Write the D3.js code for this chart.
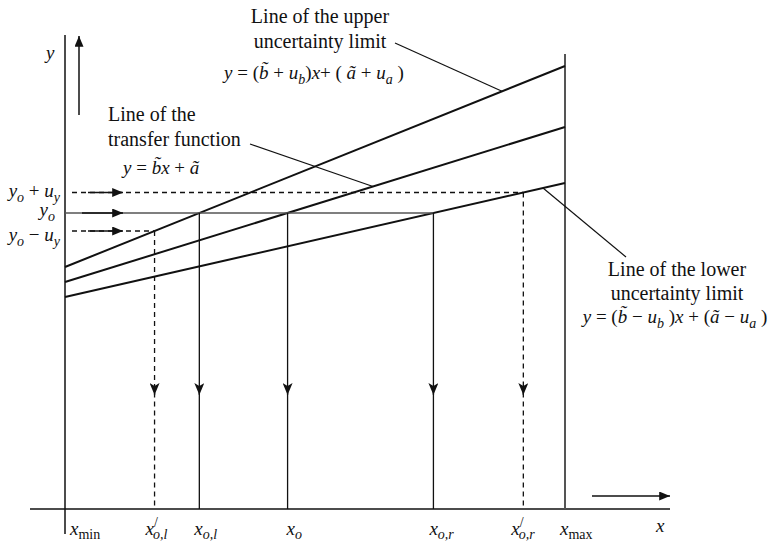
<!DOCTYPE html>
<html>
<head>
<meta charset="utf-8">
<script src="https://cdn.jsdelivr.net/npm/d3@7"></script>
<style>
  body { margin: 0; background: #fff; }
</style>
</head>
<body>
<div id="chart"></div>
<script>
const WIDTH = 773;
const HEIGHT = 545;

// the three lines: upper limit, transfer function, lower limit (intercept at x_min, slope)
const lineNames = ["upper", "transfer", "lower"];
const intercepts = [9.68, 9.08, 8.48];
const slopes = [0.804, 0.62, 0.456];

// output levels: y_o + u_y, y_o, y_o - u_y
const levelNames = ["plus", "yo", "minus"];
const levelValues = [12.66, 11.84, 11.12];

// x range of the instrument
const xMin = 0;
const xMax = 10;

// scales
let xScale = d3.scaleLinear().domain([0, 10]).range([65, 565]);
let yScale = d3.scaleLinear().domain([0, 20]).range([509, 9]);

const svg = d3.select("#chart")
  .append("svg")
    .attr("width", WIDTH)
    .attr("height", HEIGHT)
    .attr("font-family", "'Liberation Serif', 'Times New Roman', Times, 'DejaVu Serif', serif")
    .attr("font-size", 19)
    .attr("fill", "#111");

const defs = svg.append("defs");
defs.append("marker")
    .attr("id", "barb")
    .attr("viewBox", "0 0 12 10")
    .attr("refX", 12).attr("refY", 5)
    .attr("markerWidth", 12).attr("markerHeight", 10)
    .attr("markerUnits", "userSpaceOnUse")
    .attr("orient", "auto")
  .append("path")
    .attr("d", "M0,0 L12,5 L0,10 L3,5 Z")
    .attr("fill", "#111");
defs.append("marker")
    .attr("id", "tri")
    .attr("viewBox", "0 0 12 10")
    .attr("refX", 12).attr("refY", 5)
    .attr("markerWidth", 12).attr("markerHeight", 9)
    .attr("markerUnits", "userSpaceOnUse")
    .attr("orient", "auto")
  .append("path")
    .attr("d", "M0,0 L12,5 L0,10 Z")
    .attr("fill", "#111");

function lineY(i, x) { return intercepts[i] + slopes[i] * x; }
function lineX(i, y) { return (y - intercepts[i]) / slopes[i]; }

function seg(x1, y1, x2, y2) {
  return svg.append("line")
    .attr("x1", xScale(x1)).attr("y1", yScale(y1))
    .attr("x2", xScale(x2)).attr("y2", yScale(y2))
    .attr("stroke", "#111").attr("stroke-width", 1.3);
}

// text with italic / subscript / superscript parts
function mathText(x, y, parts, anchor) {
  const t = svg.append("text").attr("x", x).attr("y", y)
    .attr("text-anchor", anchor || "start");
  let shift = 0;
  parts.forEach(p => {
    const ts = t.append("tspan").text(p.t);
    if (p.i) ts.attr("font-style", "italic");
    const target = p.sub ? 5 : (p.sup ? -8 : 0);
    if (target !== shift) { ts.attr("dy", target - shift); shift = target; }
    if (p.sub || p.sup) ts.attr("font-size", 14);
  });
  return t;
}

// frame: x_min vertical, x axis, x_max vertical
seg(xMin, 18.96, xMin, -1).attr("stroke-width", 1.5);
seg(-0.7, 0, 12.1, 0).attr("stroke-width", 1.5);
seg(xMax, 18.2, xMax, 0).attr("stroke", "#555").attr("stroke-width", 2);

// axis direction arrows
seg(0.28, 15.76, 0.28, 18.92).attr("stroke-width", 1.5).attr("marker-end", "url(#tri)");
seg(10.54, 0.52, 12.1, 0.52).attr("stroke-width", 1.5).attr("marker-end", "url(#tri)");

// the three straight lines
lineNames.forEach((n, i) => {
  seg(xMin, lineY(i, xMin), xMax, lineY(i, xMax))
    .attr("class", "main-" + n)
    .attr("stroke-width", 2);
});

// crossing points of the output levels with the lines
const xol = lineX(0, levelValues[1]);
const xo = lineX(1, levelValues[1]);
const xor = lineX(2, levelValues[1]);
const xolp = lineX(0, levelValues[2]);
const xorp = lineX(2, levelValues[0]);

// horizontal lines from the y axis
const arrowTipX = 1.16;
seg(xMin, levelValues[1], xor, levelValues[1]).attr("stroke", "#555").attr("stroke-width", 1.4);
seg(0.34, levelValues[1], arrowTipX, levelValues[1]).attr("stroke-width", 1.5).attr("marker-end", "url(#tri)");
seg(0.14, levelValues[0], xorp, levelValues[0]).attr("stroke-dasharray", "5,4");
seg(0.46, levelValues[0], arrowTipX, levelValues[0]).attr("stroke-width", 1.3).attr("marker-end", "url(#tri)");
seg(0.14, levelValues[2], xolp, levelValues[2]).attr("stroke-dasharray", "5,4");
seg(0.46, levelValues[2], arrowTipX, levelValues[2]).attr("stroke-width", 1.3).attr("marker-end", "url(#tri)");

// vertical projections onto the x axis
const arrowTipY = 4.56;
const drops = [
  {x: xolp, y: levelValues[2], dash: true},
  {x: xol, y: levelValues[1], dash: false},
  {x: xo, y: levelValues[1], dash: false},
  {x: xor, y: levelValues[1], dash: false},
  {x: xorp, y: levelValues[0], dash: true}
];
drops.forEach(d => {
  const a = seg(d.x, d.y, d.x, arrowTipY).attr("marker-end", "url(#barb)");
  const b = seg(d.x, arrowTipY + 0.1, d.x, 0);
  if (d.dash) { a.attr("stroke-dasharray", "5,4"); b.attr("stroke-dasharray", "5,4"); }
});

// annotation pointers
seg(6.6, 18.64, 8.74, lineY(0, 8.74)).attr("stroke-width", 1.2);
seg(3.7, 14.6, 6.16, lineY(1, 6.16)).attr("stroke-width", 1.2);
seg(11.22, 10.08, 9.56, lineY(2, 9.56)).attr("stroke-width", 1.2);

// annotation texts
const big = 20;
svg.append("text").attr("x", 320).attr("y", 23).attr("font-size", big).attr("text-anchor", "middle").text("Line of the upper");
svg.append("text").attr("x", 320).attr("y", 48).attr("font-size", big).attr("text-anchor", "middle").text("uncertainty limit");
mathText(314, 79, [
  {t: "y", i: true}, {t: " = ("}, {t: "b\u0303", i: true}, {t: " + "}, {t: "u", i: true}, {t: "b", i: true, sub: true},
  {t: ")"}, {t: "x", i: true}, {t: "+ ( "}, {t: "a\u0303", i: true}, {t: " + "}, {t: "u", i: true}, {t: "a", i: true, sub: true}, {t: " )"}
], "middle");

svg.append("text").attr("x", 108).attr("y", 121).attr("font-size", big).text("Line of the");
svg.append("text").attr("x", 108).attr("y", 146).attr("font-size", big).text("transfer function");
mathText(123, 174, [
  {t: "y", i: true}, {t: " = "}, {t: "b\u0303x", i: true}, {t: " + "}, {t: "a\u0303", i: true}
]);

svg.append("text").attr("x", 677).attr("y", 276).attr("font-size", big).attr("text-anchor", "middle").text("Line of the lower");
svg.append("text").attr("x", 677).attr("y", 300).attr("font-size", big).attr("text-anchor", "middle").text("uncertainty limit");
mathText(675, 323, [
  {t: "y", i: true}, {t: " = ("}, {t: "b\u0303", i: true}, {t: " \u2212 "}, {t: "u", i: true}, {t: "b", i: true, sub: true},
  {t: " )"}, {t: "x", i: true}, {t: " + ("}, {t: "a\u0303", i: true}, {t: " \u2212 "}, {t: "u", i: true}, {t: "a", i: true, sub: true}, {t: " )"}
], "middle");

// y side labels
mathText(46, 59, [{t: "y", i: true}]);
mathText(60, 197, [{t: "y", i: true}, {t: "o", i: true, sub: true}, {t: " + "}, {t: "u", i: true}, {t: "y", i: true, sub: true}], "end");
mathText(55, 216, [{t: "y", i: true}, {t: "o", i: true, sub: true}], "end");
mathText(60, 241, [{t: "y", i: true}, {t: "o", i: true, sub: true}, {t: " \u2212 "}, {t: "u", i: true}, {t: "y", i: true, sub: true}], "end");

// x side labels
const xLabels = [
  {x: xMin, dx: 5, parts: [{t: "x", i: true}, {t: "min", sub: true}]},
  {x: xolp, dx: -9, parts: [{t: "x", i: true}, {t: "/", sup: true}, {t: "o,l", i: true, sub: true}]},
  {x: xol, dx: -5, parts: [{t: "x", i: true}, {t: "o,l", i: true, sub: true}]},
  {x: xo, dx: -1, parts: [{t: "x", i: true}, {t: "o", i: true, sub: true}]},
  {x: xor, dx: -4, parts: [{t: "x", i: true}, {t: "o,r", i: true, sub: true}]},
  {x: xorp, dx: -12, parts: [{t: "x", i: true}, {t: "/", sup: true}, {t: "o,r", i: true, sub: true}]},
  {x: xMax, dx: -5, parts: [{t: "x", i: true}, {t: "max", sub: true}]}
];
xLabels.forEach(l => {
  const t = mathText(xScale(l.x) + l.dx, 535, l.parts);
  t.selectAll("tspan").filter(function() { return d3.select(this).attr("dy") == 5; }).attr("dy", 4);
  if (l.parts[1].sup) {
    // prime sits above the subscript, so pull the subscript back under it
    t.selectAll("tspan").filter((d, i) => i === 2).attr("dx", -5).attr("dy", 12);
  }
});
mathText(656, 532, [{t: "x", i: true}]);
</script>
</body>
</html>
